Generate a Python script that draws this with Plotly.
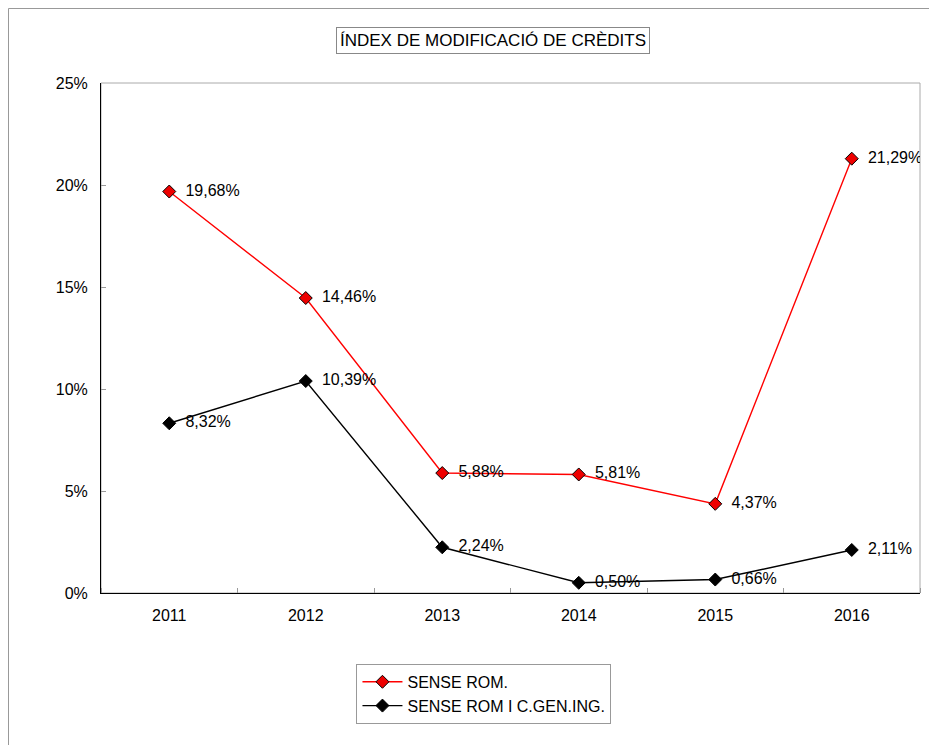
import plotly.graph_objects as go

years = ["2011", "2012", "2013", "2014", "2015", "2016"]
sense_rom = [19.68, 14.46, 5.88, 5.81, 4.37, 21.29]
sense_rom_cgen = [8.32, 10.39, 2.24, 0.50, 0.66, 2.11]
y_ticks = [0, 5, 10, 15, 20, 25]

FONT = "Liberation Sans, Arial, sans-serif"
xi = list(range(len(years)))

def lab(v):
    return "\u00a0\u00a0" + f"{v:.2f}".replace(".", ",") + "%"

fig = go.Figure()
fig.add_trace(go.Scatter(
    x=xi, y=sense_rom, name="SENSE ROM.", mode="lines+markers+text",
    line=dict(color="#ff0000", width=1.4),
    marker=dict(symbol="diamond", size=10, color="#ee0000", line=dict(color="black", width=1)),
    text=[lab(v) for v in sense_rom], textposition="middle right",
    textfont=dict(family=FONT, size=16, color="black"),
))
fig.add_trace(go.Scatter(
    x=xi, y=sense_rom_cgen, name="SENSE ROM I C.GEN.ING.", mode="lines+markers+text",
    line=dict(color="black", width=1.4),
    marker=dict(symbol="diamond", size=10, color="black", line=dict(color="black", width=1)),
    text=[lab(v) for v in sense_rom_cgen], textposition="middle right",
    textfont=dict(family=FONT, size=16, color="black"),
))

fig.update_layout(
    width=937, height=745,
    margin=dict(l=93, r=25, t=75, b=160),
    paper_bgcolor="white", plot_bgcolor="white",
    font=dict(family=FONT, size=16, color="black"),
    showlegend=True,
    legend=dict(
        x=0.4676, xanchor="center", y=-0.139, yanchor="top",
        bordercolor="#999999", borderwidth=1, bgcolor="white",
        font=dict(family=FONT, size=16), tracegroupgap=0, itemwidth=40,
    ),
    xaxis=dict(
        range=[-0.5, 5.5], tickvals=xi, ticktext=years, ticks="",
        showline=True, linecolor="black", linewidth=1, showgrid=False, zeroline=False,
        minor=dict(tick0=0.5, dtick=1, ticks="inside", ticklen=5, tickcolor="#999999", showgrid=False),
        tickfont=dict(size=16), ticklabelstandoff=8, fixedrange=True,
    ),
    yaxis=dict(
        range=[0, 25], tickvals=y_ticks, ticktext=[f"{v}%" for v in y_ticks],
        ticks="inside", ticklen=5, tickcolor="#999999",
        showline=True, linecolor="black", linewidth=1, showgrid=False, zeroline=False,
        tickfont=dict(size=16), ticklabelstandoff=9, fixedrange=True,
    ),
    shapes=[
        dict(type="rect", xref="paper", yref="paper", x0=0, x1=1, y0=0, y1=1,
             line=dict(color="#aaaaaa", width=1), layer="below"),
        dict(type="rect", xref="paper", yref="paper", x0=-92.5 / 819, x1=1.1, y0=-0.35, y1=1 + 74.5 / 510,
             line=dict(color="#999999", width=1), layer="below"),
    ],
    annotations=[
        dict(text="ÍNDEX DE MODIFICACIÓ DE CRÈDITS", xref="paper", yref="paper",
             x=0.479, y=1.0833, xanchor="center", yanchor="middle", showarrow=False,
             font=dict(family=FONT, size=17, color="black"),
             bordercolor="#888888", borderwidth=1, borderpad=3, bgcolor="white"),
    ],
)

fig.write_html("out.html")
